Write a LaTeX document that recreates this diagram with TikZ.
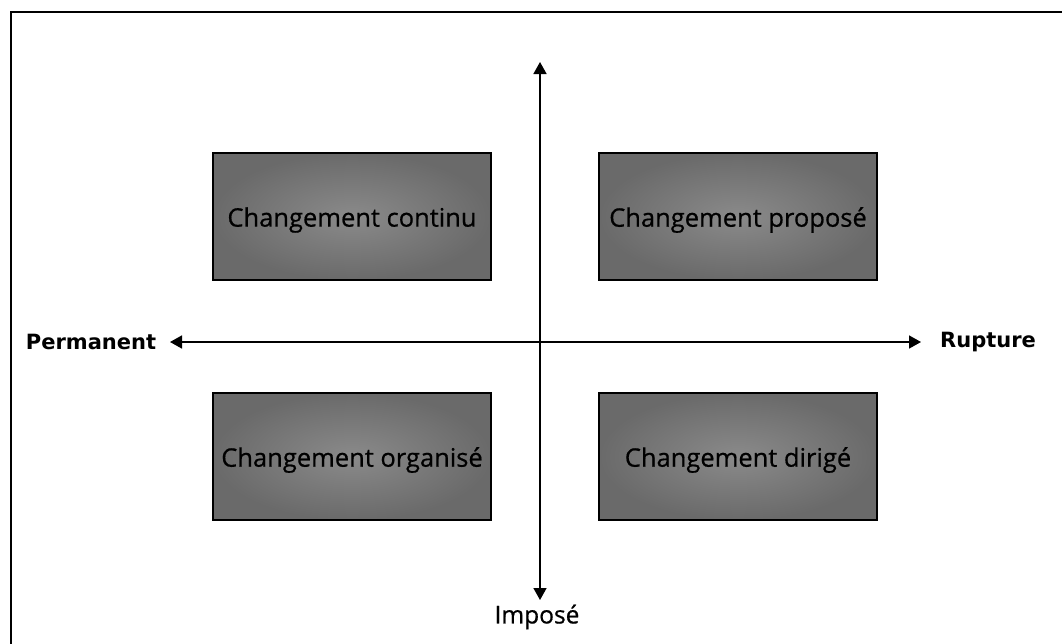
\documentclass[tikz,border=0pt]{standalone}
\usepackage{fontspec}
\setmainfont{Open Sans}
\newfontfamily\quadfont[FakeBold=0.6]{Open Sans}
\newfontfamily\axisfont{DejaVu Sans}
\usetikzlibrary{arrows.meta}
\definecolor{boxin}{RGB}{138,138,138}
\definecolor{boxout}{RGB}{106,106,106}
\newcommand{\qtext}[1]{\raisebox{-3.5pt}[\height][\depth]{#1}}
\tikzset{
  quad/.style={draw=black, line width=1.4pt, shading=radial, inner color=boxin, outer color=boxout,
    minimum width=278pt, minimum height=127pt, inner sep=0pt, font=\quadfont\fontsize{25.5}{30}\selectfont, text=black},
  axis/.style={line width=1.6pt, {Triangle[length=12pt,width=13pt]}-{Triangle[length=12pt,width=13pt]}},
  sidelabel/.style={font=\axisfont\bfseries\fontsize{21}{25}\selectfont, inner sep=0pt},
  bottomlabel/.style={font=\quadfont\fontsize{24.5}{28}\selectfont, inner sep=0pt}
}
\begin{document}
\begin{tikzpicture}[x=1pt,y=-1pt]
\useasboundingbox (0,0) rectangle (1062,643);
\fill[white] (0,0) rectangle (1062,643);
% outer frame
\draw[line width=2.2pt, line cap=rect] (1062,12) -- (11,12) -- (11,643);
% quadrant boxes
\node[quad] (cc) at (352,216.5) {\qtext{Changement continu}};
\node[quad] (cp) at (738,216.5) {\qtext{Changement proposé}};
\node[quad] (co) at (352,456.5) {\qtext{Changement organisé}};
\node[quad] (cd) at (738,456.5) {\qtext{Changement dirigé}};
% axes
\coordinate (top) at (540,62);
\coordinate (bot) at (540,600);
\coordinate (left) at (170,342);
\coordinate (right) at (921,342);
\draw[axis] (left) -- (right);
\draw[axis] (top) -- (bot);
% labels
\node[sidelabel] (perm) at (91,342) {Permanent};
\node[sidelabel] (rup) at (988,342) {Rupture};
\node[bottomlabel] (imp) at (537,617) {Imposé};
\end{tikzpicture}
\end{document}
